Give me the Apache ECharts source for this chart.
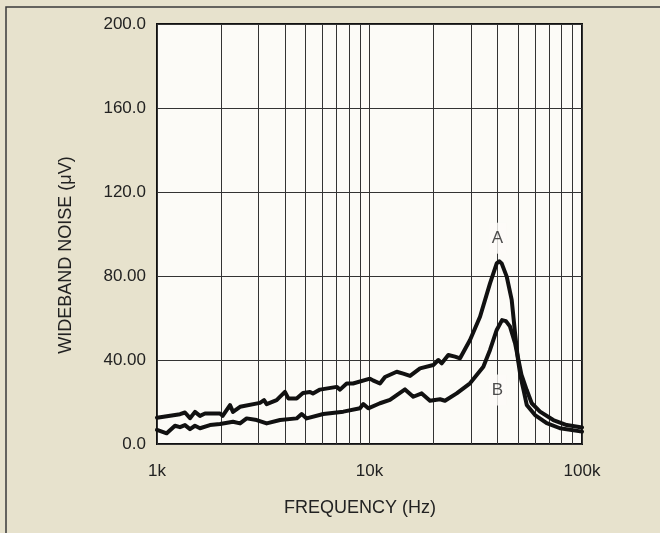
<!DOCTYPE html>
<html>
<head>
<meta charset="utf-8">
<script src="https://cdn.jsdelivr.net/npm/echarts@6/dist/echarts.min.js"></script>
<style>
  html, body { margin: 0; padding: 0; background: #e7e2cd; }
  #chart { width: 660px; height: 533px; }
</style>
</head>
<body>
<div id="chart"></div>
<script>
// ---- data ----
const freqA = [1000,1283,1354,1430,1509,1593,1682,1979,2037,2206,
  2278,2459,3052,3189,3281,3656,4000,4150,4541,4864,
  5248,5420,5846,7010,7265,7811,8363,10050,10380,11200,
  11830,13430,14420,15520,17290,19970,21080,21870,23490,25250,
  26670,29720,33120,36910,39690,40800,41880,44240,46690,48400,
  50000,51400,53090,54940,60120,68220,78770,100000];
const noiseA = [12.5,14.2,15,12.3,15.3,13.4,14.5,14.5,13.4,18.5,
  15.3,17.7,19.6,20.9,19,20.9,24.8,21.7,21.7,24.3,
  24.8,24,25.9,27.2,25.9,28.8,28.8,31.1,30.3,28.8,
  31.9,34.4,33.5,32.4,36,37.6,40,38.4,42.4,41.6,
  40.8,49.5,60.6,76.5,86,87,86,79.7,68.6,52.9,
  40,32,25.7,18.6,13.8,9.9,7.5,5.9];

const freqB = [1000,1111,1215,1283,1354,1430,1509,1593,1775,1979,
  2278,2459,2642,2945,3281,3793,4541,4795,5062,6063,
  7534,9021,9351,9866,11200,12480,14690,16070,17610,19260,
  21470,22650,25720,29720,34340,36910,39690,42050,43870,45810,
  48400,50230,51880,54940,58000,63450,73260,84740,100000];
const noiseB = [6.7,5.1,8.7,8,9,7.1,8.7,7.5,9,9.5,
  10.6,9.8,12.2,11.4,9.8,11.4,12.2,14.3,12.2,14.3,
  15.4,17,19,17,19.4,21,26,22.5,24.1,20.6,
  21.3,20.6,24.1,28.9,36.8,44.8,54.3,59,58.5,56,
  48,40,33,25.7,19.4,15.4,11.4,9,7.9];

const xGridValues = [1000,2000,3000,4000,5000,6000,7000,8000,9000,
  10000,20000,30000,40000,50000,60000,70000,80000,90000,100000];
const xTickValues = [1000,10000,100000];
const xTickLabels = ['1k','10k','100k'];
const yTickLabels = ['0.0','40.00','80.00','120.0','160.0','200.0'];

const curveLabels = ['A','B'];
const curveLabelFreq = [40000,40000];
const curveLabelValue = [98,25.7];

const xTitle = 'FREQUENCY (Hz)';
const yTitle = 'WIDEBAND NOISE (\u03BCV)';

// ---- chart ----
const FONT = "'Liberation Sans',Arial,Helvetica,sans-serif";
const INK = '#222';
const PLOTBG = '#fcfbf7';

const chart = echarts.init(document.getElementById('chart'), null, {renderer: 'canvas'});

const pairs = (xs, ys) => xs.map((x, i) => [x, ys[i]]);

chart.setOption({
  backgroundColor: '#e7e2cd',
  animation: false,
  grid: {
    left: 157, right: 78, top: 24, bottom: 89,
    show: true, backgroundColor: PLOTBG,
    borderColor: '#111', borderWidth: 2
  },
  xAxis: {
    type: 'log', logBase: 10, min: 1000, max: 100000,
    axisLine: {show: false},
    axisTick: {show: false, customValues: xGridValues},
    splitLine: {show: true, lineStyle: {color: '#333', width: 1}},
    minorSplitLine: {show: false},
    axisLabel: {
      customValues: xTickValues,
      formatter: v => xTickLabels[xTickValues.indexOf(Math.round(v))] || '',
      margin: 19, color: INK, fontFamily: FONT, fontSize: 17
    }
  },
  yAxis: {
    type: 'value', min: 0, max: 200, interval: 40,
    axisLine: {show: false},
    axisTick: {show: false},
    splitLine: {show: true, lineStyle: {color: '#333', width: 1}},
    axisLabel: {
      formatter: v => yTickLabels[Math.round(v / 40)],
      margin: 11, color: INK, fontFamily: FONT, fontSize: 17
    }
  },
  graphic: [
    {
      type: 'rect', silent: true, z: -10,
      shape: {x: 6, y: 7, width: 800, height: 700},
      style: {fill: null, stroke: '#3a3a3a', lineWidth: 1.5}
    },
    {
      type: 'text', x: 66, y: 255, rotation: Math.PI / 2,
      style: {text: yTitle, font: '18px ' + FONT, fill: INK, align: 'center', verticalAlign: 'middle'}
    },
    {
      type: 'text', x: 360, y: 508,
      style: {text: xTitle, font: '18px ' + FONT, fill: INK, align: 'center', verticalAlign: 'middle'}
    }
  ],
  series: [
    {
      type: 'line', data: pairs(freqA, noiseA), showSymbol: false, symbol: 'none',
      lineStyle: {color: '#111', width: 4, join: 'round', cap: 'round'}, z: 3
    },
    {
      type: 'line', data: pairs(freqB, noiseB), showSymbol: false, symbol: 'none',
      lineStyle: {color: '#111', width: 4, join: 'round', cap: 'round'}, z: 3
    },
    {
      type: 'scatter', symbolSize: 0, z: 2,
      data: curveLabels.map((n, i) => ({name: n, value: [curveLabelFreq[i], curveLabelValue[i]]})),
      label: {
        show: true, position: 'inside', formatter: p => p.name,
        color: INK, fontFamily: FONT, fontSize: 17,
        backgroundColor: PLOTBG, padding: [7, 3]
      }
    }
  ]
});
</script>
</body>
</html>
